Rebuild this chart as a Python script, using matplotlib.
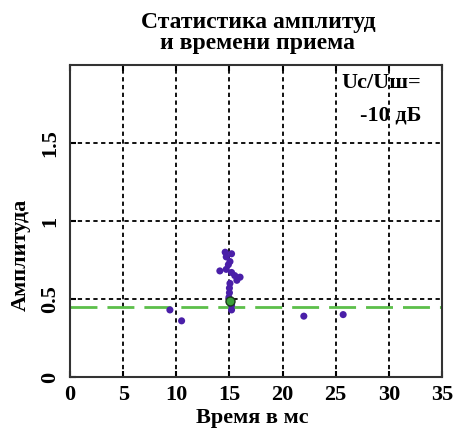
import matplotlib
matplotlib.use("Agg")
import matplotlib.pyplot as plt

times = [14.6, 15.2, 14.7, 15.05, 14.9, 14.1, 14.7, 15.2, 15.5, 16.0, 15.7, 15.05,
         15.0, 15.0, 14.95, 15.2, 15.2, 9.4, 10.5, 22.0, 25.7]
amps = [0.80, 0.79, 0.77, 0.74, 0.72, 0.68, 0.69, 0.67, 0.65, 0.64, 0.62, 0.60,
        0.57, 0.54, 0.51, 0.46, 0.43, 0.43, 0.36, 0.39, 0.40]
mean_time = [15.1]
mean_amp = [0.485]
threshold = 0.45
xticks = [0, 5, 10, 15, 20, 25, 30, 35]
yticks = [0, 0.5, 1, 1.5]
ytick_labels = ["0", "0.5", "1", "1.5"]

plt.rcParams['font.family'] = ['Liberation Serif', 'DejaVu Serif']
plt.rcParams['font.weight'] = 'bold'

W, H = 457, 430
fig = plt.figure(figsize=(W / 100, H / 100), dpi=100)
ax = fig.add_axes([70 / W, 1 - 377 / H, 372 / W, 312 / H])

ax.set_xlim(0, 35)
ax.set_ylim(0, 2.0)

for x in xticks[1:-1]:
    ax.axvline(x, color='#111111', lw=1.4, ls=(0, (2.2, 1.8)), zorder=1)
for y in yticks[1:]:
    ax.axhline(y, color='#111111', lw=1.4, ls=(0, (2.2, 1.8)), zorder=1)

ax.axhline(threshold, color='#5cbf4a', lw=2, ls=(0, (9.7, 3.6)), zorder=2)

ax.scatter(times, amps, s=26, color='#4a1fa8', edgecolors='none', zorder=3)
ax.scatter(mean_time, mean_amp, s=42, color='#3aa03a', edgecolors='#1a3a1a', linewidths=1, zorder=4)

ax.set_xticks(xticks)
ax.set_yticks(yticks)
ax.set_yticklabels(ytick_labels, rotation=90, va='center')
ax.tick_params(axis='both', labelsize=16, width=1.5, length=4, direction='in', top=True, right=False)
ax.tick_params(axis='x', pad=6)
ax.tick_params(axis='y', pad=7)
for lab in ax.get_xticklabels() + ax.get_yticklabels():
    lab.set_fontweight('bold')

for s in ax.spines.values():
    s.set_linewidth(1.5)
    s.set_color('#333333')

ax.set_xlabel("Время в мс", fontsize=16, fontweight='bold', labelpad=-1)
ax.xaxis.set_label_coords((252 - 70) / 372, -(423 - 377) / 312)
ax.xaxis.label.set_va('baseline')
ax.set_ylabel("Амплитуда", fontsize=16, fontweight='bold')
ax.yaxis.set_label_coords((31 - 70) / 372, (377 - 255) / 312)

fig.text(258 / W, 1 - 28 / H, "Статистика амплитуд", ha='center', va='baseline',
         fontsize=17, fontweight='bold')
fig.text(258 / W, 1 - 49 / H, "и времени приема", ha='center', va='baseline',
         fontsize=17, fontweight='bold')

fig.text(421 / W, 1 - 88 / H, "Uc/Uш=", ha='right', va='baseline', fontsize=16, fontweight='bold')
fig.text(421 / W, 1 - 120 / H, "-10 дБ", ha='right', va='baseline', fontsize=16, fontweight='bold')

fig.savefig("out.png", dpi=100)
